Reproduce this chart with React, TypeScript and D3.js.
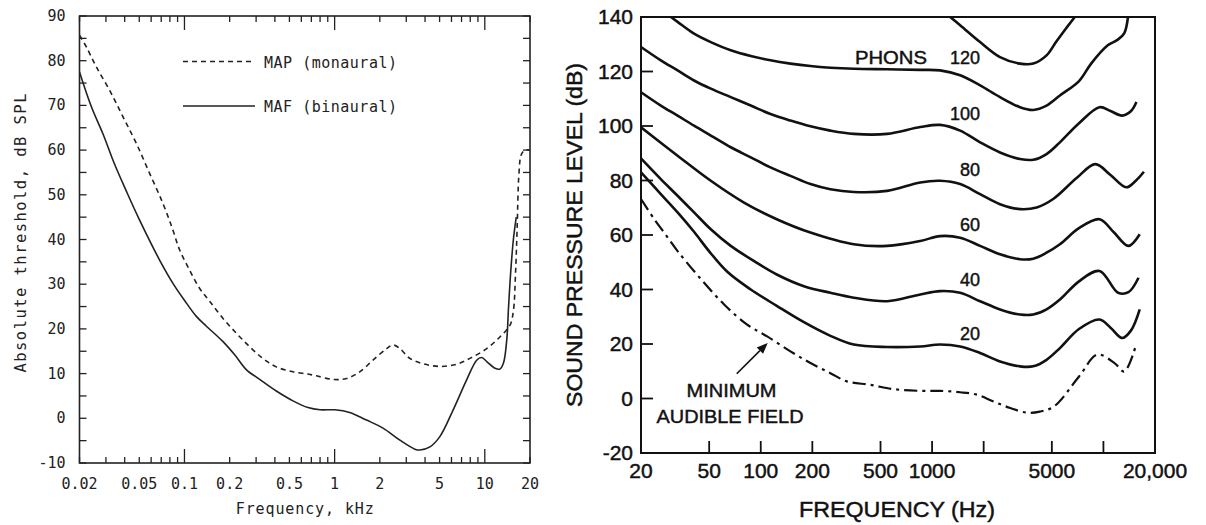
import React from "react";
import * as d3 from "d3";

// ---------------- Left panel data (frequency in kHz, level in dB SPL) ----------------
const mafFreqKHz = [0.02, 0.024, 0.0286, 0.0341, 0.0408, 0.05, 0.0683, 0.0838, 0.1, 0.12, 0.14, 0.18, 0.216, 0.258, 0.317, 0.409, 0.528, 0.665, 0.8, 1.0, 1.26, 1.63, 2.1, 2.72, 3.42, 3.7, 4.31, 5.02, 6.16, 7.57, 8.83, 9.52, 10.3, 11.7, 12.6, 13.3, 14.0, 14.4, 14.9, 15.5, 16.2];
const mafLevelDb = [77.5, 69.7, 63.7, 57.0, 51.0, 44.5, 35.4, 30.2, 26.4, 22.8, 20.6, 17.2, 14.2, 10.9, 8.7, 6.1, 3.9, 2.4, 1.9, 1.9, 1.3, -0.4, -2.2, -4.9, -6.9, -7.1, -6.4, -4.1, 1.9, 8.6, 13.0, 13.6, 12.7, 11.2, 11.0, 12.3, 17.5, 25, 33, 40, 45];

const mapFreqKHz = [0.02, 0.0222, 0.0258, 0.0317, 0.0389, 0.0478, 0.0586, 0.0718, 0.083, 0.0928, 0.108, 0.126, 0.147, 0.18, 0.222, 0.272, 0.333, 0.409, 0.528, 0.665, 0.757, 0.977, 1.2, 1.47, 1.8, 2.22, 2.45, 2.72, 3.17, 3.89, 5.02, 6.49, 7.96, 10.3, 12.6, 14.7, 15.5, 16.0, 16.4, 16.9, 17.5, 18.5, 20];
const mapLevelDb = [85.7, 83.1, 78.7, 73.4, 67.5, 61.5, 54.8, 48.1, 42.5, 37.7, 33.2, 29.1, 26.2, 22.4, 19.0, 16.0, 13.4, 11.5, 10.4, 9.9, 9.5, 8.7, 8.9, 10.4, 13.0, 15.6, 16.4, 15.6, 13.4, 12.2, 11.6, 12.1, 13.4, 15.6, 18.2, 20.8, 24, 32, 42, 55, 59, 60, 60];

const leftXTicks = [0.02, 0.05, 0.1, 0.2, 0.5, 1, 2, 5, 10, 20];
const leftXTickLabels = ["0.02", "0.05", "0.1", "0.2", "0.5", "1", "2", "5", "10", "20"];
const leftXMajorTicks = [0.1, 1, 10];
const leftYTicks = [-10, 0, 10, 20, 30, 40, 50, 60, 70, 80, 90];
const leftYTickLabels = ["-10", "0", "10", "20", "30", "40", "50", "60", "70", "80", "90"];

// ---------------- Right panel data (frequency in Hz, level in dB SPL) ----------------
const phon140Freq = [1219, 1458, 1906, 2492, 3259, 3894, 4656, 5286, 6000, 7000];
const phon140Level = [141, 137, 130.8, 125.3, 122.9, 122.9, 125.9, 130.8, 135.5, 141];

const phon120Freq = [29.2, 32.7, 40.8, 51.1, 66.8, 87.4, 114, 149, 195, 255, 349, 546, 853, 1114, 1458, 1906, 2492, 3259, 3894, 4656, 5572, 7206, 8500, 10600, 12000, 13220, 13970];
const phon120Level = [140.5, 138.2, 133.9, 130.8, 127.8, 125.7, 124.1, 122.9, 122.0, 121.4, 121.0, 120.8, 120.6, 120.4, 118.6, 114.9, 110.6, 106.9, 105.9, 107.5, 111.2, 116.5, 123, 129.6, 131.5, 134, 141];

const phon100Freq = [20, 26.1, 32.7, 40.8, 51.1, 66.8, 87.4, 114, 149, 195, 255, 349, 546, 853, 1114, 1458, 1906, 2492, 3259, 3894, 4656, 5572, 7200, 9490, 11000, 12854, 14500, 15580];
const phon100Level = [129, 124.1, 120.4, 116.7, 113.7, 110.6, 107.5, 104.4, 102.0, 99.9, 98.3, 97.1, 97.1, 99.6, 100.4, 98.3, 94.0, 90.3, 87.9, 87.6, 89.7, 94.0, 101, 106.9, 105.5, 103.8, 105.5, 108.8];

const phon80Freq = [20, 26.1, 32.7, 40.8, 51.1, 66.8, 87.4, 114, 149, 195, 255, 349, 546, 853, 1114, 1458, 1906, 2492, 3259, 4074, 5092, 7000, 8974, 11000, 13580, 15500, 17230];
const phon80Level = [112.4, 107.5, 103.8, 100.1, 96.5, 92.2, 88.5, 84.8, 81.7, 78.7, 76.8, 75.8, 76.2, 79.3, 79.9, 78.7, 75.0, 71.3, 69.5, 70.1, 73.2, 81, 86.0, 82, 77.5, 80, 83.2];

const phon60Freq = [20, 32.7, 51.1, 79.8, 124, 195, 349, 546, 853, 1114, 1458, 1906, 2492, 3259, 3894, 4656, 5572, 7200, 9490, 11500, 13970, 16290];
const phon60Level = [99.5, 89.1, 79.9, 71.9, 65.8, 60.9, 56.6, 56.0, 57.8, 59.6, 59.0, 56.0, 52.9, 51.1, 51.3, 53.5, 56.6, 62.5, 65.8, 61, 56.0, 60.3];

const phon40Freq = [20, 26.1, 32.7, 40.8, 51.1, 66.8, 91.5, 124, 178.6, 255, 349, 546, 853, 1114, 1458, 1906, 2492, 3259, 3894, 4656, 5572, 7200, 9490, 12170, 14000, 16030];
const phon40Level = [88.1, 80.5, 74.4, 68.3, 62.1, 56.0, 50.4, 45.5, 41.2, 38.8, 37.0, 35.7, 38.2, 39.4, 38.8, 35.7, 32.7, 30.8, 30.8, 32.7, 36.3, 43, 46.8, 38.8, 39, 44.3];

const phon20Freq = [20, 26.1, 32.7, 41, 50, 63.8, 87.4, 124, 178.6, 255, 349, 546, 853, 1114, 1458, 1906, 2492, 3259, 3894, 4656, 5572, 7200, 9490, 11000, 12854, 14500, 16290];
const phon20Level = [83, 75, 68.3, 61, 54, 46.5, 40, 34, 28, 23, 19.8, 18.9, 19.1, 19.8, 19.1, 16.7, 13.6, 11.8, 11.8, 14.2, 18.5, 25.5, 29.0, 26, 22.2, 25, 32.7];

const minFieldFreq = [20, 23.9, 27.3, 32.7, 44.9, 61.1, 83.3, 109, 149, 195, 255, 318, 437, 601, 853, 1114, 1458, 1822, 2283, 2861, 3585, 4253, 5150, 7206, 9220, 11605, 13220, 15300];
const minFieldLevel = [73.2, 65.8, 60.9, 54.1, 43.7, 34.5, 27.1, 22.8, 17.3, 13.0, 9.3, 6.3, 5.0, 3.4, 2.8, 2.8, 2.3, 1.4, -1.1, -3.5, -5.2, -4.8, -2.9, 8.1, 16.1, 13.0, 9.9, 18.5];

const phonLabels = ["120", "100", "80", "60", "40", "20"];
const phonLabelLevels = [122.9, 102.3, 81.7, 61.5, 41.2, 21.6];
const phonLabelFreq = 1906;

const rightXTicks = [20, 50, 100, 200, 500, 1000, 5000, 20000];
const rightXTickLabels = ["20", "50", "100", "200", "500", "1000", "5000", "20,000"];
const rightXTickMarks = [50, 100, 200, 500, 1000, 2000, 5000, 10000];
const rightYTicks = [-20, 0, 20, 40, 60, 80, 100, 120, 140];
const rightYTickLabels = ["-20", "0", "20", "40", "60", "80", "100", "120", "140"];

// annotation anchors (data units)
const arrowTail = { f: 72.4, db: 9.1 };
const arrowTip = { f: 109.8, db: 20.4 };

const L = { left: 79.5, right: 530, top: 16, bottom: 463 };
const R = { left: 641, right: 1155, top: 17, bottom: 453 };

const monoFont = "'DejaVu Sans Mono', monospace";
const sansFont = "'Liberation Sans', Arial, sans-serif";

export default function App() {
  const xL = d3.scaleLog().domain([0.02, 20]).range([L.left, L.right]);
  const yL = d3.scaleLinear().domain([-10, 90]).range([L.bottom, L.top]);
  const xR = d3.scaleLog().domain([20, 20000]).range([R.left, R.right]);
  const yR = d3.scaleLinear().domain([-20, 140]).range([R.bottom, R.top]);

  const mkLine = (xs: any, ys: any, fx: number[], ly: number[]) =>
    d3
      .line<number>()
      .x((_, i) => xs(fx[i]))
      .y((d) => ys(d))
      .curve(d3.curveCatmullRom.alpha(0.5))(ly) || "";

  const leftMinor: number[] = [];
  [0.01, 0.1, 1, 10].forEach((dec) => {
    for (let k = 1; k <= 9; k++) {
      const v = +(k * dec).toPrecision(3);
      if (v >= 0.02 && v <= 20 && !leftXMajorTicks.includes(v)) leftMinor.push(v);
    }
  });
  const leftYMinor = d3.range(-10, 91, 5);

  const rightCurves = [
    [phon140Freq, phon140Level],
    [phon120Freq, phon120Level],
    [phon100Freq, phon100Level],
    [phon80Freq, phon80Level],
    [phon60Freq, phon60Level],
    [phon40Freq, phon40Level],
    [phon20Freq, phon20Level],
  ];

  const tx = xR(arrowTail.f), ty = yR(arrowTail.db);
  const hx = xR(arrowTip.f), hy = yR(arrowTip.db);
  const ang = Math.atan2(hy - ty, hx - tx);
  const ah = 11, aw = 4.5;
  const bx = hx - ah * Math.cos(ang), by = hy - ah * Math.sin(ang);
  const head = `M${hx},${hy} L${bx + aw * Math.sin(ang)},${by - aw * Math.cos(ang)} L${bx - aw * Math.sin(ang)},${by + aw * Math.cos(ang)} Z`;

  const rText = { fontFamily: sansFont, fill: "#111", stroke: "#111", strokeWidth: 0.45 };

  return (
    <svg width={1206} height={525} style={{ position: "absolute", left: 0, top: 0, background: "#fff" }}>
      <defs>
        <clipPath id="clipL">
          <rect x={L.left} y={L.top} width={L.right - L.left} height={L.bottom - L.top} />
        </clipPath>
        <clipPath id="clipR">
          <rect x={R.left} y={R.top} width={R.right - R.left} height={R.bottom - R.top} />
        </clipPath>
      </defs>

      {/* ================= LEFT PANEL ================= */}
      <g>
        <rect x={L.left} y={L.top} width={L.right - L.left} height={L.bottom - L.top} fill="none" stroke="#222" strokeWidth={1.6} />
        {leftMinor.map((v) => (
          <g key={"lm" + v} stroke="#222" strokeWidth={1.3}>
            <line x1={xL(v)} x2={xL(v)} y1={L.bottom} y2={L.bottom - 6} />
            <line x1={xL(v)} x2={xL(v)} y1={L.top} y2={L.top + 6} />
          </g>
        ))}
        {leftXMajorTicks.map((v) => (
          <g key={"lM" + v} stroke="#222" strokeWidth={1.3}>
            <line x1={xL(v)} x2={xL(v)} y1={L.bottom} y2={L.bottom - 14} />
            <line x1={xL(v)} x2={xL(v)} y1={L.top} y2={L.top + 14} />
          </g>
        ))}
        {leftYMinor.map((v) => (
          <g key={"ly" + v} stroke="#222" strokeWidth={1.3}>
            <line x1={L.left} x2={L.left + 7} y1={yL(v)} y2={yL(v)} />
            <line x1={L.right} x2={L.right - 7} y1={yL(v)} y2={yL(v)} />
          </g>
        ))}
        {leftYTicks.map((v, i) => (
          <text key={"lyt" + v} x={L.left - 14} y={yL(v) + 5} textAnchor="end" fontFamily={monoFont} fontSize={15} fill="#222">
            {leftYTickLabels[i]}
          </text>
        ))}
        {leftXTicks.map((v, i) => (
          <text key={"lxt" + v} x={xL(v)} y={489} textAnchor="middle" fontFamily={monoFont} fontSize={15} fill="#222">
            {leftXTickLabels[i]}
          </text>
        ))}
        <text x={(L.left + L.right) / 2} y={514} textAnchor="middle" fontFamily={monoFont} fontSize={15} fill="#222" textLength={138} lengthAdjust="spacing">
          Frequency, kHz
        </text>
        <text transform={`translate(25.5,233) rotate(-90)`} textAnchor="middle" fontFamily={monoFont} fontSize={15.5} fill="#222" textLength={279} lengthAdjust="spacing">
          Absolute threshold, dB SPL
        </text>

        <g clipPath="url(#clipL)" fill="none" stroke="#222" strokeWidth={1.6}>
          <path d={mkLine(xL, yL, mapFreqKHz, mapLevelDb)} strokeDasharray="5,4" />
          <path d={mkLine(xL, yL, mafFreqKHz, mafLevelDb)} />
        </g>

        {/* legend */}
        <line x1={183} x2={255} y1={61.5} y2={61.5} stroke="#222" strokeWidth={1.6} strokeDasharray="5,4" />
        <line x1={183} x2={255} y1={106} y2={106} stroke="#222" strokeWidth={1.6} />
        <text x={264} y={67.5} fontFamily={monoFont} fontSize={15} fill="#222" textLength={133} lengthAdjust="spacing">
          MAP (monaural)
        </text>
        <text x={264} y={112} fontFamily={monoFont} fontSize={15} fill="#222" textLength={133} lengthAdjust="spacing">
          MAF (binaural)
        </text>
      </g>

      {/* ================= RIGHT PANEL ================= */}
      <g>
        <rect x={R.left} y={R.top} width={R.right - R.left} height={R.bottom - R.top} fill="none" stroke="#111" strokeWidth={2} />
        {rightXTickMarks.map((v) => (
          <line key={"rxm" + v} x1={xR(v)} x2={xR(v)} y1={R.bottom} y2={R.bottom - 12} stroke="#111" strokeWidth={1.8} />
        ))}
        {rightYTicks.map((v) => (
          <line key={"rym" + v} x1={R.left} x2={R.left + 12} y1={yR(v)} y2={yR(v)} stroke="#111" strokeWidth={1.8} />
        ))}
        {rightYTicks.map((v, i) => (
          <text key={"ryt" + v} x={R.left - 8} y={yR(v) + 7} textAnchor="end" fontSize={21} {...rText}>
            {rightYTickLabels[i]}
          </text>
        ))}
        {rightXTicks.map((v, i) => (
          <text key={"rxt" + v} x={xR(v)} y={478} textAnchor="middle" fontSize={21} {...rText}>
            {rightXTickLabels[i]}
          </text>
        ))}
        <text x={897} y={517} textAnchor="middle" fontSize={22} textLength={196} lengthAdjust="spacingAndGlyphs" {...rText}>
          FREQUENCY (Hz)
        </text>
        <text transform={`translate(582,235) rotate(-90)`} textAnchor="middle" fontSize={22} textLength={344} lengthAdjust="spacingAndGlyphs" {...rText}>
          SOUND PRESSURE LEVEL (dB)
        </text>

        <g clipPath="url(#clipR)" fill="none" stroke="#111" strokeWidth={2.6}>
          {rightCurves.map(([f, l], i) => (
            <path key={"rc" + i} d={mkLine(xR, yR, f as number[], l as number[])} />
          ))}
          <path d={mkLine(xR, yR, minFieldFreq, minFieldLevel)} strokeWidth={2.2} strokeDasharray="13,5,3,5" />
        </g>

        {phonLabels.map((s, i) => (
          <text key={"pl" + s} x={xR(phonLabelFreq)} y={yR(phonLabelLevels[i])} textAnchor="end" fontSize={18} {...rText}>
            {s}
          </text>
        ))}
        <text x={855} y={yR(phonLabelLevels[0])} fontSize={18} textLength={72} lengthAdjust="spacingAndGlyphs" {...rText}>
          PHONS
        </text>

        <line x1={tx} y1={ty} x2={bx} y2={by} stroke="#111" strokeWidth={1.6} />
        <path d={head} fill="#111" />
        <text x={731.5} y={397} textAnchor="middle" fontSize={19} textLength={90} lengthAdjust="spacingAndGlyphs" {...rText}>
          MINIMUM
        </text>
        <text x={730} y={423} textAnchor="middle" fontSize={19} textLength={147} lengthAdjust="spacingAndGlyphs" {...rText}>
          AUDIBLE FIELD
        </text>
      </g>
    </svg>
  );
}
